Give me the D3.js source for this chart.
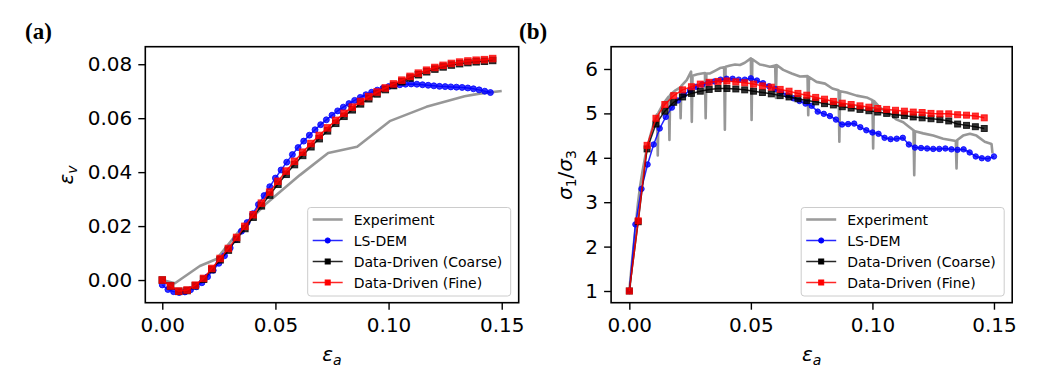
<!DOCTYPE html>
<html><head><meta charset="utf-8">
<script src="https://cdn.jsdelivr.net/npm/d3@7"></script>
<style>body{margin:0;background:#fff}svg{display:block}</style>
</head><body>
<svg id="c" width="1044" height="381"></svg>
<script>
// ---------- DATA ----------
const seriesNames = ["Experiment", "LS-DEM", "Data-Driven (Coarse)", "Data-Driven (Fine)"];
const xTicks = [0, 0.05, 0.10, 0.15];
const yTicksA = [0, 0.02, 0.04, 0.06, 0.08];
const yTicksB = [1, 2, 3, 4, 5, 6];

// Data-driven strain points (both panels)
const ddStrain = [0, 0.00365, 0.0073, 0.01095, 0.0146, 0.01825, 0.0219, 0.02555, 0.0292, 0.03285,
  0.0365, 0.04015, 0.0438, 0.04745, 0.0511, 0.05475, 0.0584, 0.06205, 0.0657, 0.06935,
  0.073, 0.07665, 0.0803, 0.08395, 0.0876, 0.09125, 0.0949, 0.09855, 0.1022, 0.10585,
  0.1095, 0.11315, 0.1168, 0.12045, 0.1241, 0.12775, 0.1314, 0.13505, 0.1387, 0.14235, 0.146];

// Panel (a): volumetric strain
const fineVolA = [0, -0.0022, -0.0041, -0.0037, -0.0019, 0.0006, 0.0043, 0.008, 0.0117, 0.0158,
  0.0199, 0.0242, 0.0285, 0.0326, 0.0366, 0.0404, 0.044, 0.0474, 0.0506, 0.0536,
  0.0564, 0.0592, 0.0618, 0.0641, 0.0662, 0.068, 0.0697, 0.0712, 0.0727, 0.0741,
  0.0755, 0.0767, 0.0778, 0.0788, 0.0796, 0.0803, 0.0808, 0.0812, 0.0815, 0.0817, 0.0821];
const coarseVolA = [0, -0.0022, -0.0042, -0.0039, -0.0021, 0.0003, 0.0039, 0.0075, 0.0111, 0.0151,
  0.0191, 0.0233, 0.0275, 0.0315, 0.0355, 0.0392, 0.0428, 0.0462, 0.0494, 0.0524,
  0.0553, 0.0581, 0.0607, 0.0631, 0.0653, 0.0672, 0.069, 0.0706, 0.0721, 0.0735,
  0.0749, 0.0761, 0.0772, 0.0782, 0.079, 0.0797, 0.0802, 0.0806, 0.0809, 0.0811, 0.0814];
const lsStrainA = [0, 0.0025, 0.005, 0.0075, 0.01, 0.0125, 0.015, 0.0175, 0.02, 0.0225,
  0.025, 0.0275, 0.03, 0.0325, 0.035, 0.0375, 0.04, 0.0425, 0.045, 0.0475,
  0.05, 0.0525, 0.055, 0.0575, 0.06, 0.0625, 0.065, 0.0675, 0.07, 0.0725,
  0.075, 0.0775, 0.08, 0.0825, 0.085, 0.0875, 0.09, 0.0925, 0.095, 0.0975,
  0.1, 0.1025, 0.105, 0.1075, 0.11, 0.1125, 0.115, 0.1175, 0.12, 0.1225,
  0.125, 0.1275, 0.13, 0.1325, 0.135, 0.1375, 0.14, 0.1425, 0.145];
const lsVolA = [-0.0018, -0.0035, -0.0043, -0.0046, -0.0044, -0.0036, -0.0025, -0.001, 0.0012, 0.0036,
  0.0062, 0.009, 0.0119, 0.015, 0.0181, 0.0213, 0.0246, 0.028, 0.0313, 0.0346,
  0.0378, 0.0408, 0.0437, 0.0465, 0.0491, 0.0515, 0.0537, 0.0557, 0.0576, 0.0594,
  0.0611, 0.0627, 0.0641, 0.0654, 0.0666, 0.0677, 0.0687, 0.0696, 0.0704, 0.0711,
  0.0717, 0.0721, 0.0724, 0.0726, 0.0727, 0.0726, 0.0724, 0.0722, 0.072, 0.0718,
  0.0717, 0.0716, 0.0715, 0.0714, 0.0712, 0.0709, 0.0705, 0.07, 0.0695];
const expStrainA = [0, 0.0056, 0.0166, 0.024, 0.0343, 0.046, 0.0608, 0.0733, 0.0861, 0.1005, 0.1167, 0.1336, 0.1402, 0.15];
const expVolA = [0, -0.0012, 0.0052, 0.0078, 0.0185, 0.0284, 0.0389, 0.0471, 0.0494, 0.0589, 0.0642, 0.0681, 0.0691, 0.0701];

// Panel (b): stress ratio
const fineRatioB = [1.0, 2.58, 4.28, 4.89, 5.2, 5.4, 5.53, 5.6, 5.66, 5.7,
  5.72, 5.73, 5.71, 5.69, 5.66, 5.62, 5.59, 5.54, 5.5, 5.45,
  5.41, 5.36, 5.32, 5.27, 5.23, 5.2, 5.17, 5.14, 5.11, 5.09,
  5.07, 5.05, 5.03, 5.02, 5.0, 4.99, 4.99, 4.97, 4.96, 4.94, 4.9];
const coarseRatioB = [1.0, 2.56, 4.2, 4.76, 5.05, 5.25, 5.37, 5.45, 5.5, 5.54,
  5.56, 5.56, 5.55, 5.53, 5.5, 5.47, 5.44, 5.4, 5.37, 5.33,
  5.29, 5.26, 5.22, 5.19, 5.15, 5.12, 5.09, 5.06, 5.03, 5.0,
  4.97, 4.95, 4.92, 4.9, 4.88, 4.86, 4.83, 4.76, 4.73, 4.7, 4.66];
const lsStrainB = [0, 0.0025, 0.005, 0.0075, 0.01, 0.0125, 0.015, 0.0175, 0.02, 0.0225,
  0.025, 0.0275, 0.03, 0.0325, 0.035, 0.0375, 0.04, 0.0425, 0.045, 0.0475,
  0.05, 0.0525, 0.055, 0.0575, 0.06, 0.0625, 0.065, 0.0675, 0.07, 0.0725,
  0.075, 0.0775, 0.08, 0.0825, 0.085, 0.0875, 0.09, 0.0925, 0.095, 0.0975,
  0.1, 0.1025, 0.105, 0.1075, 0.11, 0.1125, 0.115, 0.1175, 0.12, 0.1225,
  0.125, 0.1275, 0.13, 0.1325, 0.135, 0.1375, 0.14, 0.1425, 0.145, 0.1475, 0.15];
const lsRatioB = [1.0, 2.5, 3.3, 3.85, 4.3, 4.66, 4.92, 5.13, 5.29, 5.42,
  5.52, 5.6, 5.65, 5.69, 5.72, 5.76, 5.78, 5.78, 5.76, 5.76,
  5.79, 5.74, 5.68, 5.61, 5.55, 5.48, 5.41, 5.34, 5.28, 5.22,
  5.17, 5.04, 4.99, 4.94, 4.86, 4.75, 4.76, 4.77, 4.69, 4.62,
  4.57, 4.54, 4.45, 4.42, 4.43, 4.45, 4.3, 4.23, 4.22, 4.21,
  4.2, 4.2, 4.21, 4.19, 4.18, 4.19, 4.12, 4.03, 3.99, 3.98, 4.03];
const expStrainB = [0, 0.001, 0.0023, 0.0035, 0.0044, 0.0055, 0.0065, 0.0085, 0.0106, 0.0114,
  0.0117, 0.012, 0.014, 0.0162, 0.0165, 0.0168, 0.019, 0.0208, 0.0211, 0.0214,
  0.0236, 0.0254, 0.0257, 0.026, 0.028, 0.0298, 0.0311, 0.0314, 0.0317, 0.0332,
  0.0352, 0.0373, 0.039, 0.0393, 0.0396, 0.0415, 0.0435, 0.0455, 0.0475, 0.05,
  0.0503, 0.0506, 0.0537, 0.0558, 0.0578, 0.06, 0.0603, 0.0606, 0.0633, 0.0668,
  0.0702, 0.0733, 0.0736, 0.0739, 0.077, 0.0805, 0.0835, 0.0861, 0.0864, 0.0867,
  0.0894, 0.0935, 0.0976, 0.1, 0.1003, 0.1006, 0.1031, 0.1072, 0.11, 0.1127,
  0.115, 0.1169, 0.1172, 0.1175, 0.1209, 0.125, 0.1291, 0.1332, 0.1343, 0.1346,
  0.1349, 0.1373, 0.1401, 0.1428, 0.1462, 0.149, 0.1494];
const expRatioB = [1.0, 1.6, 2.3, 2.95, 3.35, 3.72, 4.02, 4.47, 4.88, 4.98,
  4.05, 5.02, 5.22, 5.38, 4.4, 5.42, 5.52, 5.58, 4.89, 5.62,
  5.75, 5.94, 4.81, 5.85, 5.88, 5.9, 5.91, 4.89, 5.9, 5.9,
  5.96, 6.02, 6.04, 4.63, 6.05, 6.08, 6.1, 6.09, 6.14, 6.24,
  4.85, 6.22, 6.1, 6.08, 6.05, 6.08, 5.35, 6.09, 5.98, 5.9,
  5.83, 5.84, 4.96, 5.82, 5.71, 5.67, 5.56, 5.52, 4.36, 5.5,
  5.47, 5.4, 5.36, 5.3, 4.21, 5.28, 5.13, 4.98, 4.86, 4.8,
  4.7, 4.62, 3.61, 4.6, 4.55, 4.5, 4.43, 4.39, 4.38, 3.76,
  4.4, 4.5, 4.54, 4.5, 4.36, 4.31, 4.1];

// ---------- DRAWING ----------
const svg = d3.select('#c');
const FONT = "'DejaVu Sans', sans-serif";
const zip = (xs, ys) => xs.map((v, i) => [v, ys[i]]);

function mathText(g, x, y, parts, rot) {
  const t = g.append('text')
    .attr('transform', `translate(${x},${y}) rotate(${rot || 0})`)
    .attr('text-anchor', 'middle').attr('font-family', FONT)
    .attr('font-size', 20).attr('fill', '#000');
  parts.forEach(p => {
    const s = t.append('tspan').text(p.t)
      .attr('font-style', p.it ? 'italic' : 'normal')
      .attr('font-size', p.sub ? 14 : 20);
    if (p.dy) s.attr('dy', p.dy);
  });
}

function panel(o) {
  const x = d3.scaleLinear().domain([-0.0075, 0.1575]).range([o.left, o.right]);
  const y = d3.scaleLinear().domain(o.yDomain).range([302.7, 46.7]);
  const g = svg.append('g');
  const cid = 'clip' + o.id;
  svg.append('clipPath').attr('id', cid).append('rect')
    .attr('x', o.left).attr('y', 46.7).attr('width', o.right - o.left).attr('height', 256);
  const p = g.append('g').attr('clip-path', `url(#${cid})`);
  const line = d3.line().x(d => x(d[0])).y(d => y(d[1]));

  // Experiment
  p.append('path').datum(o.exp).attr('d', line).attr('fill', 'none')
    .attr('stroke', '#8c8c8c').attr('stroke-opacity', 0.9).attr('stroke-width', 2.6)
    .attr('stroke-linejoin', 'round');

  function series(data, color, marker, ms) {
    const gg = p.append('g');
    gg.append('path').datum(data).attr('d', line).attr('fill', 'none')
      .attr('stroke', color).attr('stroke-opacity', 0.85).attr('stroke-width', 1.5);
    if (marker === 'circle') {
      gg.selectAll('circle').data(data).join('circle')
        .attr('cx', d => x(d[0])).attr('cy', d => y(d[1])).attr('r', ms / 2)
        .attr('fill', color).attr('fill-opacity', 0.8)
        .attr('stroke', color).attr('stroke-opacity', 0.8).attr('stroke-width', 1);
    } else {
      gg.selectAll('rect').data(data).join('rect')
        .attr('x', d => x(d[0]) - ms / 2).attr('y', d => y(d[1]) - ms / 2)
        .attr('width', ms).attr('height', ms)
        .attr('fill', color).attr('fill-opacity', 0.8)
        .attr('stroke', color).attr('stroke-opacity', 0.8).attr('stroke-width', 1);
    }
  }
  series(o.ls, 'blue', 'circle', o.cs);
  series(o.coarse, 'black', 'square', o.ss);
  series(o.fine, 'red', 'square', o.ss);

  // Axes
  const ax = g.append('g').attr('transform', 'translate(0,302.7)')
    .call(d3.axisBottom(x).tickValues(xTicks).tickFormat(d3.format('.2f')).tickSize(7).tickPadding(8));
  const ay = g.append('g').attr('transform', `translate(${o.left},0)`)
    .call(d3.axisLeft(y).tickValues(o.yTicks).tickFormat(o.yFmt).tickSize(7).tickPadding(6));
  [ax, ay].forEach(a => {
    a.select('.domain').remove();
    a.selectAll('line').attr('stroke', '#000').attr('stroke-width', 1.4);
    a.selectAll('text').attr('font-family', FONT).attr('font-size', 20).attr('fill', '#000');
  });
  g.append('rect').attr('x', o.left).attr('y', 46.7).attr('width', o.right - o.left).attr('height', 256)
    .attr('fill', 'none').attr('stroke', '#000').attr('stroke-width', 1.6);

  // Labels
  mathText(g, (o.left + o.right) / 2, 361, [{t: 'ε', it: true}, {t: 'a', it: true, sub: true, dy: 4}]);
  mathText(g, o.ylx, 175, o.ylabel, -90);
  g.append('text').attr('x', o.panelX).attr('y', 39).text(o.panel)
    .attr('font-family', "'Liberation Serif', 'Times New Roman', serif")
    .attr('font-weight', 'bold').attr('font-size', 23).attr('fill', '#000');

  // Legend
  const lx = o.right - 8 - 203, ly = 207.5;
  const lg = g.append('g');
  lg.append('rect').attr('x', lx).attr('y', ly).attr('width', 203).attr('height', 88.5)
    .attr('rx', 3).attr('fill', '#fff').attr('fill-opacity', 0.8)
    .attr('stroke', '#cccccc').attr('stroke-width', 1);
  const items = [
    {c: '#8c8c8c', w: 2.6, m: null},
    {c: 'blue', w: 1.5, m: 'circle'},
    {c: 'black', w: 1.5, m: 'square'},
    {c: 'red', w: 1.5, m: 'square'}
  ];
  items.forEach((it, i) => {
    const cy = ly + 12 + i * 21;
    lg.append('line').attr('x1', lx + 5).attr('x2', lx + 35).attr('y1', cy).attr('y2', cy)
      .attr('stroke', it.c).attr('stroke-width', it.w).attr('stroke-opacity', 0.85);
    if (it.m === 'circle') {
      lg.append('circle').attr('cx', lx + 20).attr('cy', cy).attr('r', 2.6)
        .attr('fill', it.c).attr('stroke', it.c).attr('stroke-width', 1);
    } else if (it.m === 'square') {
      lg.append('rect').attr('x', lx + 17.5).attr('y', cy - 2.5).attr('width', 5).attr('height', 5)
        .attr('fill', it.c).attr('stroke', it.c).attr('stroke-width', 1);
    }
    lg.append('text').attr('x', lx + 46).attr('y', cy).attr('dy', '0.36em')
      .text(seriesNames[i]).attr('font-family', FONT).attr('font-size', 14).attr('fill', '#000');
  });
}

panel({
  id: 'a', left: 145.3, right: 518.7, yDomain: [-0.0084, 0.0865],
  yTicks: yTicksA, yFmt: d3.format('.2f'),
  exp: zip(expStrainA, expVolA), ls: zip(lsStrainA, lsVolA),
  coarse: zip(ddStrain, coarseVolA), fine: zip(ddStrain, fineVolA),
  cs: 6, ss: 6.5, ylx: 73,
  ylabel: [{t: 'ε', it: true}, {t: 'v', it: true, sub: true, dy: 4}],
  panel: '(a)', panelX: 25
});
panel({
  id: 'b', left: 611.1, right: 1012.2, yDomain: [0.7365, 6.502],
  yTicks: yTicksB, yFmt: d3.format('d'),
  exp: zip(expStrainB, expRatioB), ls: zip(lsStrainB, lsRatioB),
  coarse: zip(ddStrain, coarseRatioB), fine: zip(ddStrain, fineRatioB),
  cs: 5.5, ss: 6, ylx: 572,
  ylabel: [{t: 'σ', it: true}, {t: '1', sub: true, dy: 4}, {t: '/', dy: -4}, {t: 'σ', it: true}, {t: '3', sub: true, dy: 4}],
  panel: '(b)', panelX: 519
});
</script>
</body></html>
